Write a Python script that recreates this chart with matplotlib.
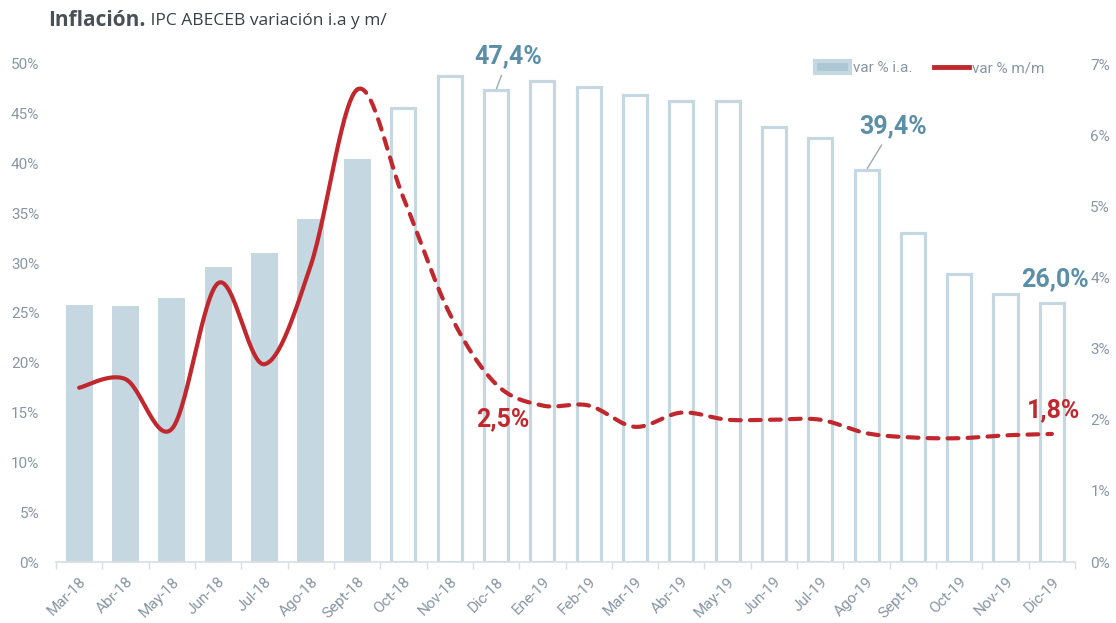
import numpy as np
import matplotlib.pyplot as plt
from matplotlib.patches import Patch
from matplotlib.lines import Line2D

# data
months = ['Mar-18', 'Abr-18', 'May-18', 'Jun-18', 'Jul-18', 'Ago-18', 'Sept-18',
          'Oct-18', 'Nov-18', 'Dic-18', 'Ene-19', 'Feb-19', 'Mar-19', 'Abr-19',
          'May-19', 'Jun-19', 'Jul-19', 'Ago-19', 'Sept-19', 'Oct-19', 'Nov-19',
          'Dic-19']
var_ia = [25.8, 25.7, 26.5, 29.6, 31.0, 34.4, 40.5, 45.6, 48.8, 47.4, 48.3,
          47.7, 46.9, 46.3, 46.3, 43.7, 42.6, 39.4, 33.0, 28.9, 26.9, 26.0]
var_mm = [2.45, 2.57, 1.87, 3.92, 2.78, 4.17, 6.64, 5.12, 3.49, 2.5, 2.2,
          2.2, 1.9, 2.1, 2.0, 2.0, 2.0, 1.81, 1.75, 1.74, 1.78, 1.8]
n_real = 7  # Mar-18 .. Sept-18 observed, rest projected

BAR = '#c5d8e1'
RED = '#c0282d'
BLUE_TXT = '#5b8fa8'
GRAY = '#8896a4'


def smooth(xs, ys, steps=30):
    '''Excel-like smoothed line (cubic bezier through the points)'''
    xs = np.asarray(xs, float)
    ys = np.asarray(ys, float)
    px = np.concatenate([[xs[0]], xs, [xs[-1]]])
    py = np.concatenate([[ys[0]], ys, [ys[-1]]])
    out_x, out_y = [], []
    t = np.linspace(0, 1, steps)
    for i in range(1, len(px) - 2):
        p0 = np.array([px[i], py[i]])
        p3 = np.array([px[i + 1], py[i + 1]])
        c1 = p0 + (np.array([px[i + 1], py[i + 1]]) - np.array([px[i - 1], py[i - 1]])) / 6
        c2 = p3 - (np.array([px[i + 2], py[i + 2]]) - np.array([px[i], py[i]])) / 6
        b = ((1 - t) ** 3)[:, None] * p0 + (3 * (1 - t) ** 2 * t)[:, None] * c1 \
            + (3 * (1 - t) * t ** 2)[:, None] * c2 + (t ** 3)[:, None] * p3
        if i > 1:
            b = b[1:]
        out_x.extend(b[:, 0])
        out_y.extend(b[:, 1])
    return np.array(out_x), np.array(out_y)


plt.rcParams['font.family'] = ['Roboto', 'DejaVu Sans']

fig = plt.figure(figsize=(11.16, 6.23), dpi=100)
ax = fig.add_axes([56 / 1116, 61 / 623, (1075 - 56) / 1116, (562 - 64) / 623])
ax2 = ax.twinx()

x = np.arange(len(months))

# bars: filled for observed, outlined for the rest
ax.bar(x[:n_real], var_ia[:n_real], width=0.58, color=BAR, zorder=2)
ax.bar(x[n_real:], var_ia[n_real:], width=0.52, facecolor='white',
       edgecolor=BAR, linewidth=2.3, zorder=2)

# monthly line, solid then dashed
sx, sy = smooth(x, var_mm)
cut = (n_real - 1) * 29 + 1
ax2.plot(sx[:cut], sy[:cut], color=RED, linewidth=3, solid_capstyle='round', zorder=3)
ax2.plot(sx[cut - 1:], sy[cut - 1:], color=RED, linewidth=3,
         dashes=(2.6, 2.2), dash_capstyle='round', zorder=3)

ax.set_xlim(-0.5, len(months) - 0.5)
ax.set_ylim(0, 50)
ax2.set_ylim(0, 7)
ax.set_yticks(np.arange(0, 51, 5))
ax.set_yticklabels([f'{v}%' for v in range(0, 51, 5)])
ax2.set_yticks(np.arange(0, 8, 1))
ax2.set_yticklabels([f'{v}%' for v in range(0, 8)])

ax.set_xticks(x)
ax.set_xticklabels(months, rotation=45, ha='right', rotation_mode='anchor')
ax.set_xticks(np.arange(-0.5, len(months), 1), minor=True)
ax.tick_params(axis='x', which='major', length=0, pad=9, labelsize=11, labelcolor=GRAY)
ax.tick_params(axis='x', which='minor', length=5, color='#d9dde1', width=1)
ax.tick_params(axis='y', length=0, pad=12, labelsize=11, labelcolor=GRAY)
ax2.tick_params(axis='y', length=0, pad=11, labelsize=11, labelcolor=GRAY)

for a in (ax, ax2):
    for s in ('top', 'left', 'right'):
        a.spines[s].set_visible(False)
ax2.spines['bottom'].set_visible(False)
ax.spines['bottom'].set_color('#d9dde1')
ax.spines['bottom'].set_linewidth(1.2)

# data labels
lab_kw = dict(fontsize=18, fontweight='bold', ha='center', va='center',
              textcoords='offset points', annotation_clip=False)
leader = dict(arrowstyle='-', color='#a0a8ae', lw=1, shrinkA=3, shrinkB=1)
ax.annotate('47,4%', xy=(9, var_ia[9]), xytext=(9, 24), color=BLUE_TXT,
            arrowprops=leader, **lab_kw)
ax.annotate('39,4%', xy=(17, var_ia[17]), xytext=(19, 31), color=BLUE_TXT,
            arrowprops=leader, **lab_kw)
ax.annotate('26,0%', xy=(21, var_ia[21]), xytext=(2, 17), color=BLUE_TXT, **lab_kw)
ax2.annotate('2,5%', xy=(9, var_mm[9]), xytext=(5, -25), color=RED, **lab_kw)
ax2.annotate('1,8%', xy=(21, var_mm[21]), xytext=(1, 17), color=RED, **lab_kw)

# legend
handles = [Patch(facecolor='#adc7d4', edgecolor=BAR, linewidth=3),
           Line2D([], [], color=RED, lw=3.5)]
fig.legend(handles, ['var % i.a.', 'var % m/m'], loc='center right',
           bbox_to_anchor=(1058 / 1116, 1 - 68 / 623), ncol=2, frameon=False,
           fontsize=11, labelcolor=GRAY, handlelength=2.3, handleheight=0.8,
           handletextpad=0.2, columnspacing=1.4)

# title: bold part then regular part right after it
t1 = fig.text(48 / 1116, 1 - 21 / 623, 'Inflación.', fontsize=15, fontweight='bold',
              color='#4a5055', family=['Open Sans', 'DejaVu Sans'], va='center')
ax.annotate(' IPC ABECEB variación i.a y m/', xy=(1, 0), xycoords=t1, va='bottom',
            ha='left', fontsize=12.5, color='#3c4043', family=['Open Sans', 'DejaVu Sans'],
            xytext=(0, 1.5), textcoords='offset points', annotation_clip=False)

fig.savefig('out.png', dpi=100)
